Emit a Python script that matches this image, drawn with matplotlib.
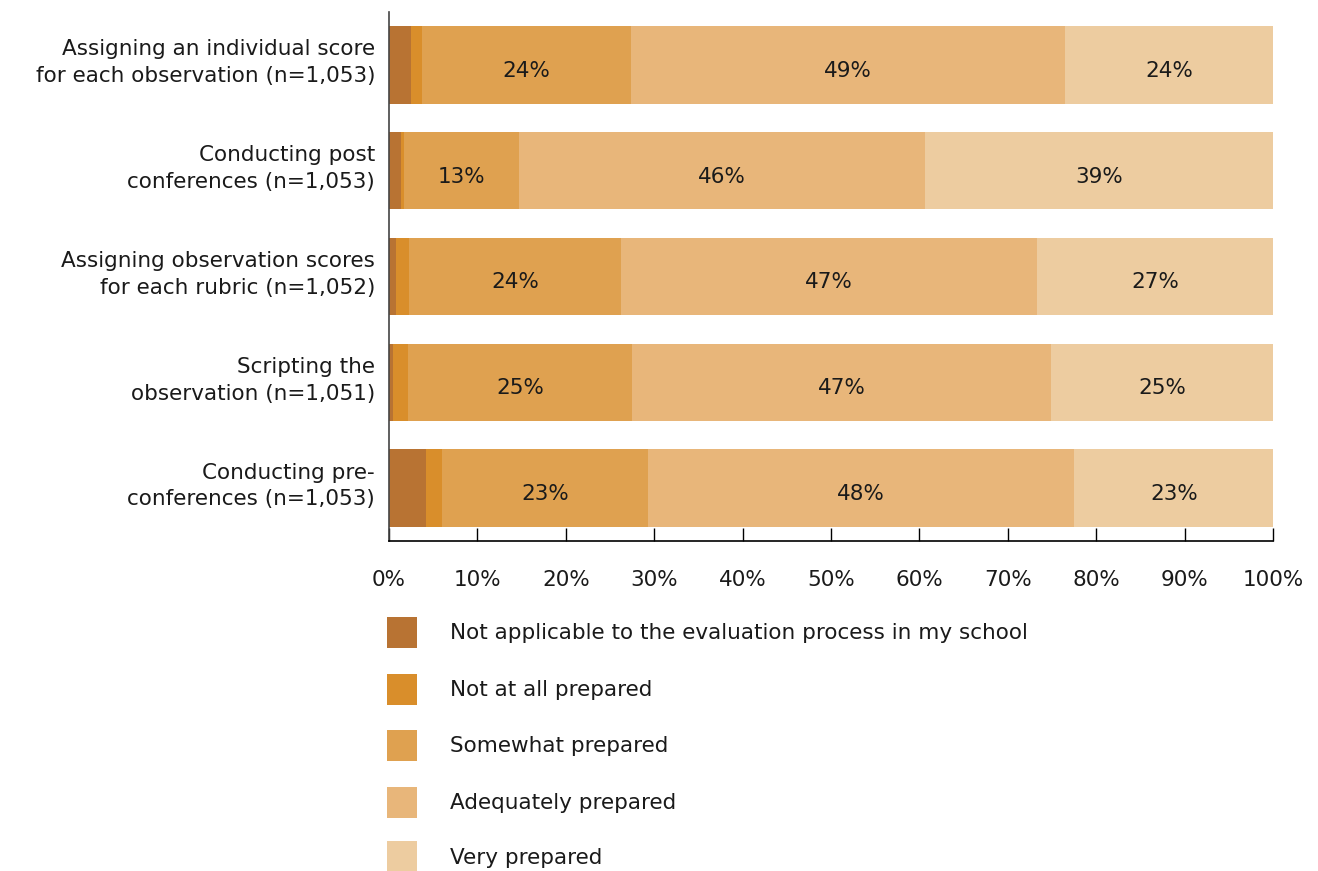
import matplotlib
matplotlib.use("Agg")
import matplotlib.pyplot as plt
from matplotlib.patches import Rectangle
import numpy as np

plt.rcParams['font.family'] = ['DejaVu Sans']

categories = [
    "Assigning an individual score\nfor each observation (n=1,053)",
    "Conducting post\nconferences (n=1,053)",
    "Assigning observation scores\nfor each rubric (n=1,052)",
    "Scripting the\nobservation (n=1,051)",
    "Conducting pre-\nconferences (n=1,053)",
]

not_applicable = [2.5, 1.4, 0.8, 0.4, 4.2]
not_at_all = [1.2, 0.3, 1.5, 1.8, 1.8]
somewhat = [23.7, 13.0, 23.9, 25.3, 23.3]
adequately = [49.1, 45.9, 47.1, 47.4, 48.2]
very = [23.6, 39.4, 26.7, 25.1, 22.6]

series_names = [
    "Not applicable to the evaluation process in my school",
    "Not at all prepared",
    "Somewhat prepared",
    "Adequately prepared",
    "Very prepared",
]
series_values = [not_applicable, not_at_all, somewhat, adequately, very]
series_colors = ["#B87333", "#D98E2B", "#DFA150", "#E8B67A", "#EDCCA0"]
labelled = [False, False, True, True, True]

x_ticks = list(range(0, 101, 10))
x_ticklabels = [f"{t}%" for t in x_ticks]

W, H = 1318, 871
fig = plt.figure(figsize=(W / 100, H / 100), dpi=100)
ax = fig.add_axes([389 / W, 1 - 541 / H, 884 / W, 529 / H])

text_color = "#1a1a1a"
fs = 15.5
y = np.arange(len(categories))
left = np.zeros(len(categories))
for vals, color, show in zip(series_values, series_colors, labelled):
    vals = np.array(vals)
    ax.barh(y, vals, left=left, height=0.73, color=color, edgecolor="none")
    if show:
        for yi, l, v in zip(y, left, vals):
            ax.text(l + v / 2, yi + 0.055, f"{v:.0f}%", ha="center", va="center",
                    fontsize=fs, color=text_color)
    left += vals

ax.set_xlim(0, 100)
ax.set_ylim(len(categories) - 0.5, -0.5)
ax.set_yticks(y - 0.07)
ax.set_yticklabels(categories, fontsize=fs, color=text_color, linespacing=1.42)
ax.set_xticks(x_ticks)
ax.set_xticklabels(x_ticklabels, fontsize=fs, color=text_color)
ax.tick_params(axis="y", length=0, pad=10)
ax.tick_params(axis="x", direction="in", length=9.5, width=1, pad=21, color="black")
for s in ["top", "right"]:
    ax.spines[s].set_visible(False)
ax.spines["left"].set_color("#444444")
ax.spines["bottom"].set_color("black")
ax.spines["left"].set_linewidth(1.2)
ax.spines["bottom"].set_linewidth(1.2)

# legend drawn as a column of swatches with labels
row_y = [632, 689, 745, 802, 857]
for name, color, ry in zip(series_names, series_colors, row_y):
    fig.add_artist(Rectangle((387 / W, 1 - (ry + 15.5) / H), 30 / W, 31 / H,
                             transform=fig.transFigure, facecolor=color,
                             edgecolor="none"))
    fig.text(450 / W, 1 - (ry + 1) / H, name, fontsize=fs, color=text_color,
             ha="left", va="center")

fig.savefig("out.png", dpi=100)
